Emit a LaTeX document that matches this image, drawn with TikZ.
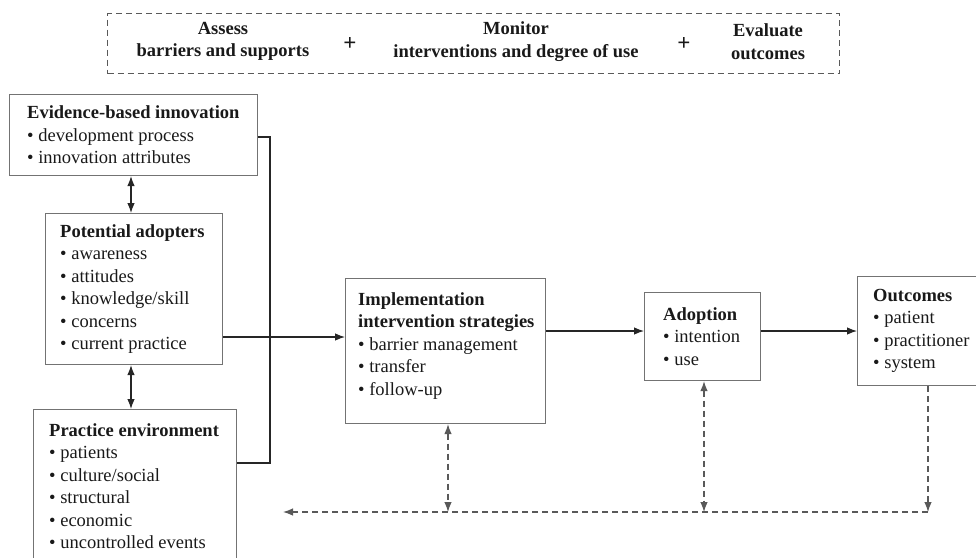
\documentclass[tikz,border=0pt]{standalone}
\usepackage{fontspec}
\setmainfont{Liberation Serif}
\usetikzlibrary{arrows.meta}
\definecolor{boxgray}{gray}{0.45}
\definecolor{linegray}{gray}{0.15}
\definecolor{dashgray}{gray}{0.35}
\definecolor{txt}{gray}{0.1}
\begin{document}
\begin{tikzpicture}[x=1pt,y=-1pt,
  >={Latex[length=10pt,width=7.5pt]},
  box/.style={draw=boxgray, line width=1.1pt, anchor=north west, inner sep=0pt},
  txtblk/.style={anchor=west, align=left, inner sep=0pt, text=txt,
    font=\fontsize{18.5}{22.5}\selectfont},
  toptxt/.style={align=center, inner sep=0pt, text=txt,
    font=\fontsize{18.5}{22.5}\selectfont\bfseries},
  plustxt/.style={inner sep=0pt, text=txt, font=\fontsize{23}{26}\selectfont\bfseries},
  conn/.style={draw=linegray, line width=1.1pt},
  dashln/.style={draw=dashgray, line width=1.2pt, dash pattern=on 6pt off 4pt}
]
\useasboundingbox (0,0) rectangle (976,557);

% top dashed box
\node[draw=dashgray, line width=1.1pt, dash pattern=on 6pt off 4pt, anchor=north west,
  minimum width=732pt, minimum height=60pt, inner sep=0pt] (top) at (107,13) {};
\node[toptxt] (assess) at (223,41.5) {Assess\\barriers and supports};
\node[plustxt] (plus1) at (350,44) {+};
\node[toptxt] (monitor) at (516,41.5) {Monitor\\interventions and degree of use};
\node[plustxt] (plus2) at (684,44) {+};
\node[toptxt] (evaluate) at (768,41.5) {Evaluate\\outcomes};

% boxes
\node[box, minimum width=248pt, minimum height=81pt] (evid) at (9,94) {};
\node[txtblk] (evidt) at ([xshift=18pt]evid.west)
  {\textbf{Evidence-based innovation}\\\textbullet\ development process\\\textbullet\ innovation attributes};

\node[box, minimum width=177pt, minimum height=151pt] (pot) at (45,213) {};
\node[txtblk] (pott) at ([xshift=15pt]pot.west)
  {\textbf{Potential adopters}\\\textbullet\ awareness\\\textbullet\ attitudes\\\textbullet\ knowledge/skill\\\textbullet\ concerns\\\textbullet\ current practice};

\node[box, minimum width=203pt, minimum height=153pt] (prac) at (33,409) {};
\node[txtblk] (pract) at ([xshift=16pt]prac.west)
  {\textbf{Practice environment}\\\textbullet\ patients\\\textbullet\ culture/social\\\textbullet\ structural\\\textbullet\ economic\\\textbullet\ uncontrolled events};

\node[box, minimum width=200pt, minimum height=145pt] (impl) at (345,278) {};
\node[txtblk, anchor=north west] (implt) at ([xshift=13pt,yshift=-14pt]impl.north west)
  {\textbf{Implementation}\\\textbf{intervention strategies}\\\textbullet\ barrier management\\\textbullet\ transfer\\\textbullet\ follow-up};

\node[box, minimum width=116pt, minimum height=88pt] (adop) at (644,292) {};
\node[txtblk] (adopt) at ([xshift=19pt]adop.west)
  {\textbf{Adoption}\\\textbullet\ intention\\\textbullet\ use};

\node[box, minimum width=128pt, minimum height=109pt] (outc) at (857,276) {};
\node[txtblk] (outct) at ([xshift=16pt]outc.west)
  {\textbf{Outcomes}\\\textbullet\ patient\\\textbullet\ practitioner\\\textbullet\ system};

% helper coordinates
\coordinate (vtop) at (270,137);
\coordinate (vbot) at (270,463);
\coordinate (h1) at (0,337);
\coordinate (h2) at (0,331);
\coordinate (v1) at (131,0);
\coordinate (bl) at (283,512);
\coordinate (bx1) at (448,512);
\coordinate (bx2) at (704,512);
\coordinate (bx3) at (928,512);

% solid connectors
\draw[conn] (evid.east |- vtop) -- (vtop) -- (vbot) -- (prac.east |- vbot);
\draw[conn,<->] (evid.south -| v1) -- (pot.north -| v1);
\draw[conn,<->] (pot.south -| v1) -- (prac.north -| v1);
\draw[conn,->] (pot.east |- h1) -- (impl.west |- h1);
\draw[conn,->] (impl.east |- h2) -- (adop.west |- h2);
\draw[conn,->] (adop.east |- h2) -- (outc.west |- h2);

% dashed feedback
\draw[dashln,->] (bx3) -- (bl);
\draw[dashln,<->] (impl.south -| bx1) -- (bx1);
\draw[dashln,<->] (adop.south -| bx2) -- (bx2);
\draw[dashln,->] (outc.south -| bx3) -- (bx3);
\end{tikzpicture}
\end{document}
